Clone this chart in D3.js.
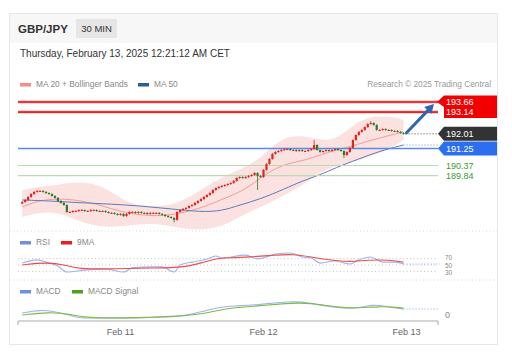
<!DOCTYPE html>
<html><head><meta charset="utf-8">
<script src="https://cdn.jsdelivr.net/npm/d3@7"></script>
<style>body{margin:0;background:#fff;} svg{display:block;font-family:"Liberation Sans",Arial,Helvetica,sans-serif;}</style>
</head><body><svg id="c" width="512" height="355"></svg>
<script>
// ---------- DATA ----------
const symbol = "GBP/JPY";
const timeframe = "30 MIN";
const stamp = "Thursday, February 13, 2025 12:21:12 AM CET";
const lastCandleTime = new Date(2025, 1, 12, 23, 30);
const closes = [
 188.48,188.58,188.74,188.89,189.00,189.05,189.05,189.00,188.94,188.89,
 188.79,188.69,188.53,188.43,188.32,187.96,187.96,188.01,188.01,188.06,
 188.06,188.01,188.01,188.06,188.06,188.01,188.01,188.01,187.96,187.91,
 187.91,187.86,187.81,187.86,187.75,187.86,187.96,187.96,187.91,187.96,
 187.91,187.91,187.86,187.91,187.91,187.91,187.86,187.81,187.75,187.70,
 187.65,187.55,187.96,188.06,188.12,188.17,188.27,188.32,188.43,188.53,
 188.63,188.74,188.84,188.94,189.10,189.20,189.26,189.31,189.36,189.41,
 189.46,189.57,189.72,189.77,189.72,189.77,189.83,189.88,189.98,189.83,
 189.77,190.14,190.45,190.71,190.97,191.07,191.12,191.17,191.22,191.22,
 191.17,191.17,191.12,191.17,191.12,191.12,191.17,191.22,191.43,191.17,
 191.07,191.12,191.17,191.12,191.17,191.22,191.17,191.12,190.91,191.07,
 191.28,191.69,191.95,192.11,192.21,192.36,192.52,192.57,192.47,192.21,
 192.21,192.26,192.21,192.21,192.16,192.16,192.11,192.05,192.01
];
const firstOpen = 188.40;
const spikeIdx  = [51, 79, 98, 108, 117];
const spikeHigh = [null, null, 191.69, null, 192.67];
const spikeLow  = [187.42, 189.10, null, 190.75, null];

const bandIdx   = [0,5,10,15,20,25,30,35,40,45,50,55,60,65,70,75,80,85,90,95,100,105,110,115,120,125,128];
const bandUpper = [189.10,189.26,189.31,189.46,189.51,189.41,189.00,188.48,188.27,188.27,188.32,188.63,189.10,189.57,189.98,190.29,190.76,191.54,191.90,191.90,191.69,191.69,192.31,192.83,192.93,192.88,192.73];
const bandLower = [187.70,187.91,187.96,187.75,187.44,187.23,187.18,187.23,187.34,187.34,187.23,187.08,187.03,187.13,187.44,187.86,188.22,188.58,189.00,189.41,190.03,190.34,190.50,190.71,191.02,191.38,191.69];
const ma20      = [188.22,188.53,188.63,188.63,188.53,188.37,188.12,187.91,187.81,187.75,187.81,187.96,188.17,188.48,188.79,189.15,189.72,190.24,190.50,190.65,190.91,191.17,191.33,191.59,191.79,192.00,192.11];

const ma50Idx = [0,10,20,30,40,50,60,67,73,80,88,94,100,105,113,120,128];
const ma50    = [188.58,188.53,188.43,188.37,188.27,188.12,187.96,188.01,188.32,188.63,189.15,189.57,189.88,190.24,190.71,191.12,191.43];

const resistances = [193.66, 193.14];
const lastPrice = 192.01;
const pivot = 191.25;
const supports = [190.37, 189.84];

const rsiIdx = [0,5,8,12,15,21,28,34,37,43,47,51,53,57,62,65,67,75,79,85,90,94,97,100,105,110,113,117,121,125,128];
const rsi    = [56,66,59,47,28,34,37.5,28,41,44,44,28,50,59,69,78,72,81,69,84,87.5,75,72,56,62.5,53,66,75,59,59,53];
const rsiMaIdx = [0,8,15,18,32,43,54,61,65,67,77,85,91,97,103,110,116,123,128];
const rsiMa    = [50,59,50,37.5,37.5,41,41,59,69,72,75,81,84,75,66,59,66,66,59];
const rsiLevels = [70, 50, 30];

const macdIdx = [0,6,10,16,19,22,38,49,54,60,66,71,79,90,97,103,112,118,123,128];
const macd    = [0.02,0.05,0.04,0.00,-0.03,-0.03,-0.03,-0.02,-0.01,0.03,0.08,0.09,0.10,0.14,0.12,0.08,0.06,0.11,0.08,0.06];
const sigIdx  = [0,9,16,21,38,55,62,69,79,94,101,110,120,128];
const signal  = [0.00,0.03,0.01,-0.03,-0.03,-0.01,0.02,0.07,0.09,0.13,0.10,0.06,0.09,0.07];

const dayTicks = [new Date(2025,1,11), new Date(2025,1,12), new Date(2025,1,13)];

// ---------- SCALES ----------
const svg = d3.select("#c");
const N = closes.length;
const HALF = 30*60*1000;
const tOf = i => new Date(lastCandleTime.getTime() - (N-1-i)*HALF);
const x = d3.scaleTime().domain([dayTicks[0], dayTicks[2]]).range([120.5, 406.5]);
const xi = i => x(tOf(i));
const y = d3.scaleLinear().domain([187, 194]).range([230.5, 95.44]);
const yR = d3.scaleLinear().domain([0, 100]).range([281, 249]);
const yM = d3.scaleLinear().domain([-0.05, 0.15]).range([320, 300]);
const PL = 18, PR = 438;

// ---------- CARD ----------
svg.append("rect").attr("x",9.5).attr("y",13.5).attr("width",488).attr("height",331)
  .attr("fill","#fff").attr("stroke","#e8e8e8");
svg.append("rect").attr("x",10).attr("y",14).attr("width",487).attr("height",29).attr("fill","#f7f7f7");
svg.append("text").attr("x",18).attr("y",33).attr("font-size",11.5).attr("font-weight","bold").attr("fill","#333").text(symbol);
svg.append("rect").attr("x",76).attr("y",19).attr("width",41).attr("height",19).attr("fill","#e6e6e6");
svg.append("text").attr("x",96.5).attr("y",32).attr("text-anchor","middle").attr("font-size",9.5).attr("fill","#333").text(timeframe);
svg.append("text").attr("x",20).attr("y",57).attr("font-size",10).attr("fill","#333").text(stamp);

function legendItem(x0, yy, color, label){
  svg.append("rect").attr("x",x0).attr("y",yy-4).attr("width",11).attr("height",3.5).attr("fill",color);
  svg.append("text").attr("x",x0+16).attr("y",yy).attr("font-size",8.4).attr("fill","#888").text(label);
}
legendItem(20, 87, "#f78a8a", "MA 20 + Bollinger Bands");
legendItem(138, 87, "#2f5a9e", "MA 50");
svg.append("text").attr("x",491).attr("y",87).attr("text-anchor","end").attr("font-size",8.3).attr("fill","#999").text("Research © 2025 Trading Central");

// ---------- MAIN ----------
const g = svg.append("g");
const curve = d3.curveMonotoneX;
g.append("path").datum(bandIdx.map((d,k)=>[d,bandUpper[k],bandLower[k]]))
  .attr("d", d3.area().curve(d3.curveBasis).x(d=>xi(d[0])).y0(d=>y(d[2])).y1(d=>y(d[1])))
  .attr("fill","#fcdcdc").attr("opacity",0.85);
g.append("path").datum(bandIdx.map((d,k)=>[d,ma20[k]]))
  .attr("d", d3.line().curve(d3.curveBasis).x(d=>xi(d[0])).y(d=>y(d[1])))
  .attr("fill","none").attr("stroke","#f59a9a").attr("stroke-width",1);
g.append("path").datum(ma50Idx.map((d,k)=>[d,ma50[k]]))
  .attr("d", d3.line().curve(d3.curveBasis).x(d=>xi(d[0])).y(d=>y(d[1])))
  .attr("fill","none").attr("stroke","#5a7cbc").attr("stroke-width",1);

// level lines
resistances.forEach(v=>{
  g.append("line").attr("x1",PL).attr("x2",PR).attr("y1",y(v)).attr("y2",y(v)).attr("stroke","#f25a5a").attr("stroke-width",2.6);
  g.append("line").attr("x1",PL).attr("x2",PR).attr("y1",y(v)).attr("y2",y(v)).attr("stroke","#e31414").attr("stroke-width",1.2);
});
g.append("line").attr("x1",PL).attr("x2",PR).attr("y1",y(pivot)).attr("y2",y(pivot)).attr("stroke","#5a8ae8").attr("stroke-width",1.5);
supports.forEach(v=>{
  g.append("line").attr("x1",PL).attr("x2",PR).attr("y1",y(v)).attr("y2",y(v)).attr("stroke","#b9dbb2").attr("stroke-width",1.2);
});

// candles
const candles = closes.map((c,i)=>{
  const o = i===0 ? firstOpen : closes[i-1];
  let h = Math.max(o,c)+0.04, l = Math.min(o,c)-0.04;
  const s = spikeIdx.indexOf(i);
  if (s>=0){ if (spikeHigh[s]!=null) h = spikeHigh[s]; if (spikeLow[s]!=null) l = spikeLow[s]; }
  return {i,o,c,h,l};
});
const cg = g.append("g");
candles.forEach(d=>{
  const col = d.c >= d.o ? "#e0251c" : "#2f7a2a";
  const cx = xi(d.i);
  cg.append("line").attr("x1",cx).attr("x2",cx).attr("y1",y(d.h)).attr("y2",y(d.l)).attr("stroke",col).attr("stroke-width",0.8);
  const top = y(Math.max(d.o,d.c)), bot = y(Math.min(d.o,d.c));
  cg.append("rect").attr("x",cx-1.1).attr("y",top).attr("width",2.2).attr("height",Math.max(bot-top,1)).attr("fill",col);
});

// dotted extensions
const lastX = xi(N-1);
g.append("line").attr("x1",lastX+2).attr("x2",PR).attr("y1",y(lastPrice)).attr("y2",y(lastPrice))
  .attr("stroke","#444").attr("stroke-dasharray","1,2");
g.append("line").attr("x1",xi(ma50Idx[ma50Idx.length-1])).attr("x2",PR).attr("y1",y(ma50[ma50.length-1])).attr("y2",y(ma50[ma50.length-1]))
  .attr("stroke","#6e8ccc").attr("stroke-dasharray","1,2");

// arrow
const ax0 = lastX+3, ay0 = y(lastPrice)-1, ax1 = PR-4, ay1 = y(resistances[0])+2;
const ang = Math.atan2(ay1-ay0, ax1-ax0);
g.append("line").attr("x1",ax0).attr("y1",ay0).attr("x2",ax1-6*Math.cos(ang)).attr("y2",ay1-6*Math.sin(ang))
  .attr("stroke","#2c68b4").attr("stroke-width",3).attr("stroke-linecap","round");
const ah = 9, aw = 5;
const bx = ax1-ah*Math.cos(ang), by = ay1-ah*Math.sin(ang);
g.append("polygon").attr("points",[[ax1,ay1],[bx+aw*Math.sin(ang),by-aw*Math.cos(ang)],[bx-aw*Math.sin(ang),by+aw*Math.cos(ang)]].map(p=>p.join(",")).join(" "))
  .attr("fill","#2c68b4");

// right labels
function tag(y0, y1, color){
  const xl = PR, pt = 6;
  svg.append("polygon").attr("points",[[xl,(y0+y1)/2],[xl+pt,y0],[497,y0],[497,y1],[xl+pt,y1]].map(p=>p.join(",")).join(" ")).attr("fill",color);
}
svg.append("polygon").attr("points",[[PR-1,y(resistances[0])],[PR+6,y(resistances[0])-6.5],[497,y(resistances[0])-6.5],[497,y(resistances[1])+6],[PR+6,y(resistances[1])+6],[PR+6,y(resistances[0])+5]].map(p=>p.join(",")).join(" ")).attr("fill","#f20000");
resistances.forEach(v=>{
  svg.append("text").attr("x",446).attr("y",y(v)+3.3).attr("font-size",9).attr("fill","#fff").text(v.toFixed(2));
});
tag(y(lastPrice)-7, y(lastPrice)+7, "#333333");
svg.append("text").attr("x",446).attr("y",y(lastPrice)+3.3).attr("font-size",9).attr("fill","#fff").text(lastPrice.toFixed(2));
tag(y(pivot)-7, y(pivot)+7, "#2b6ff0");
svg.append("text").attr("x",446).attr("y",y(pivot)+3.3).attr("font-size",9).attr("fill","#fff").text(pivot.toFixed(2));
supports.forEach(v=>{
  svg.append("text").attr("x",446).attr("y",y(v)+3.3).attr("font-size",9).attr("fill","#3a9a32").text(v.toFixed(2));
});

// separators
[231, 280].forEach(yy=>{
  svg.append("line").attr("x1",10).attr("x2",497).attr("y1",yy).attr("y2",yy).attr("stroke","#d8d8d8").attr("stroke-dasharray","1,2.5");
});

// ---------- RSI ----------
legendItem(20, 245, "#6f8fe0", "RSI");
legendItem(61, 245, "#f01c1c", "9MA");
const rsiLabelShift = [1.4, 2.5, 3.6];
rsiLevels.forEach((v,k)=>{
  svg.append("line").attr("x1",PL).attr("x2",PR).attr("y1",yR(v)).attr("y2",yR(v)).attr("stroke","#c4c4c4").attr("stroke-dasharray","1,2.5");
  svg.append("text").attr("x",445).attr("y",yR(v)+rsiLabelShift[k]).attr("font-size",6.4).attr("fill","#888").text(v);
});
svg.append("path").datum(rsiIdx.map((d,k)=>[d,rsi[k]]))
  .attr("d", d3.line().curve(curve).x(d=>xi(d[0])).y(d=>yR(d[1])))
  .attr("fill","none").attr("stroke","#9fb3ef").attr("stroke-width",1.1);
svg.append("path").datum(rsiMaIdx.map((d,k)=>[d,rsiMa[k]]))
  .attr("d", d3.line().curve(d3.curveBasis).x(d=>xi(d[0])).y(d=>yR(d[1])))
  .attr("fill","none").attr("stroke","#f04a4a").attr("stroke-width",1.1);
svg.append("line").attr("x1",lastX).attr("x2",PR+2).attr("y1",yR(rsi[rsi.length-1])).attr("y2",yR(rsi[rsi.length-1]))
  .attr("stroke","#8aa2e8").attr("stroke-dasharray","1,2");

// ---------- MACD ----------
legendItem(20, 294, "#6f8fe0", "MACD");
legendItem(72, 294, "#4ea01e", "MACD Signal");
svg.append("text").attr("x",445).attr("y",yM(0)+3.3).attr("font-size",9).attr("fill","#888").text("0");
svg.append("path").datum(macdIdx.map((d,k)=>[d,macd[k]]))
  .attr("d", d3.line().curve(d3.curveBasis).x(d=>xi(d[0])).y(d=>yM(d[1])))
  .attr("fill","none").attr("stroke","#9fb3ef").attr("stroke-width",1.1);
svg.append("path").datum(sigIdx.map((d,k)=>[d,signal[k]]))
  .attr("d", d3.line().curve(d3.curveBasis).x(d=>xi(d[0])).y(d=>yM(d[1])))
  .attr("fill","none").attr("stroke","#7cbc4a").attr("stroke-width",1.1);
svg.append("line").attr("x1",lastX).attr("x2",PR).attr("y1",yM(macd[macd.length-1])).attr("y2",yM(macd[macd.length-1]))
  .attr("stroke","#8aa2e8").attr("stroke-dasharray","1,2");

// ---------- X AXIS ----------
svg.append("path").attr("d",`M${PL},325V321H${PR}V325`).attr("fill","none").attr("stroke","#aaa");
dayTicks.forEach(t=>{
  svg.append("text").attr("x",x(t)).attr("y",335).attr("text-anchor","middle").attr("font-size",9).attr("fill","#666")
    .text(d3.timeFormat("%b %-d")(t));
});
</script></body></html>
